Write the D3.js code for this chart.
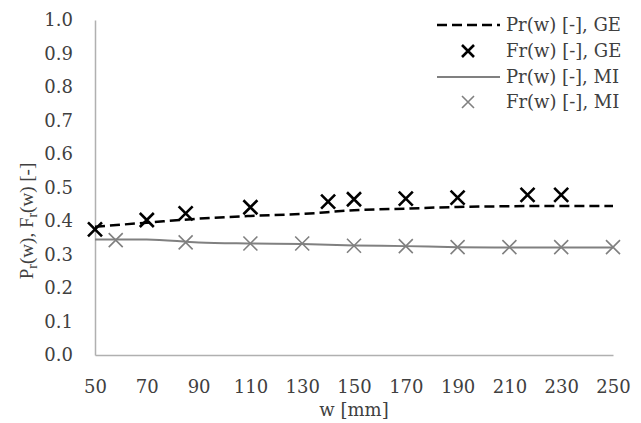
<!DOCTYPE html>
<html>
<head>
<meta charset="utf-8">
<script src="https://cdn.jsdelivr.net/npm/d3@7"></script>
<style>
  body { margin: 0; background: #fff; }
  text { font-family: "DejaVu Serif", serif; fill: #404040; }
</style>
</head>
<body>
<svg id="chart" width="641" height="423"></svg>
<script>
// data
const lineW = [50, 70, 90, 110, 130, 150, 170, 190, 210, 230, 250];
const prGE = [0.383, 0.395, 0.407, 0.415, 0.421, 0.432, 0.437, 0.442, 0.444, 0.445, 0.445];
const prMI = [0.345, 0.345, 0.336, 0.333, 0.331, 0.327, 0.325, 0.322, 0.321, 0.321, 0.321];

const frGEw = [50, 70, 85, 110, 140, 150, 170, 190, 217, 230];
const frGE = [0.375, 0.403, 0.423, 0.441, 0.458, 0.465, 0.467, 0.470, 0.478, 0.478];

const frMIw = [58, 85, 110, 130, 150, 170, 190, 210, 230, 250];
const frMI = [0.343, 0.336, 0.333, 0.333, 0.326, 0.325, 0.322, 0.322, 0.322, 0.322];

const xTicks = [50, 70, 90, 110, 130, 150, 170, 190, 210, 230, 250];
const yTicks = [0, 0.1, 0.2, 0.3, 0.4, 0.5, 0.6, 0.7, 0.8, 0.9, 1.0];

const legendNames = ["Pr(w) [-], GE", "Fr(w) [-], GE", "Pr(w) [-], MI", "Fr(w) [-], MI"];

const margins = {top: 20, left: 95, right: 28, bottom: 68};
const width = 641, height = 423;
const fontSize = '18px';

const svg = d3.select('#chart');

const xScale = d3.scaleLinear().domain([50, 250]).range([margins.left, width - margins.right]);
const yScale = d3.scaleLinear().domain([0, 1]).range([height - margins.bottom, margins.top]);

// axes
const xAxis = svg.append('g')
  .attr('transform', `translate(0, ${yScale(0)})`)
  .call(d3.axisBottom(xScale).tickValues(xTicks).tickSize(0).tickPadding(25).tickFormat(d3.format('d')));
const yAxis = svg.append('g')
  .attr('transform', `translate(${xScale(50)}, 0)`)
  .call(d3.axisLeft(yScale).tickValues(yTicks).tickSize(0).tickPadding(22).tickFormat(d3.format('.1f')));

[xAxis, yAxis].forEach(function(a) {
  a.select('.domain').attr('stroke', '#b0b0b0').attr('stroke-width', 1.5);
  a.selectAll('text').style('font-size', fontSize).attr('fill', '#404040').style('font-family', '"DejaVu Serif", serif');
});

// axis titles
svg.append('text')
  .attr('x', (xScale(50) + xScale(250)) / 2)
  .attr('y', 416)
  .attr('text-anchor', 'middle')
  .style('font-size', fontSize)
  .text('w [mm]');

const yTitle = svg.append('text')
  .attr('transform', `translate(33, 221) rotate(-90)`)
  .attr('text-anchor', 'middle')
  .style('font-family', '"Liberation Serif", serif')
  .style('font-size', '19px');
yTitle.append('tspan').text('P');
yTitle.append('tspan').attr('dy', 4).style('font-size', '14px').text('r');
yTitle.append('tspan').attr('dy', -4).text('(w), F');
yTitle.append('tspan').attr('dy', 4).style('font-size', '14px').text('r');
yTitle.append('tspan').attr('dy', -4).text('(w) [-]');

// lines
const line = d3.line()
  .x((d, i) => xScale(lineW[i]))
  .y(d => yScale(d))
  .curve(d3.curveMonotoneX);

svg.append('path')
  .datum(prMI)
  .attr('d', line)
  .attr('fill', 'none')
  .attr('stroke', '#808080')
  .attr('stroke-width', 2);

svg.append('path')
  .datum(prGE)
  .attr('d', line)
  .attr('fill', 'none')
  .attr('stroke', '#000')
  .attr('stroke-width', 2.5)
  .attr('stroke-dasharray', '10,5');

// x markers
function cross(g, cx, cy, s, color, sw) {
  g.append('path')
    .attr('d', `M${cx - s},${cy - s}L${cx + s},${cy + s}M${cx - s},${cy + s}L${cx + s},${cy - s}`)
    .attr('stroke', color)
    .attr('stroke-width', sw)
    .attr('fill', 'none');
}

const marks = svg.append('g');
frMI.forEach(function(v, i) { cross(marks, xScale(frMIw[i]), yScale(v), 7, '#808080', 1.6); });
frGE.forEach(function(v, i) { cross(marks, xScale(frGEw[i]), yScale(v), 7, '#000', 2.6); });

// legend
const legend = svg.append('g');
const rowY = [25, 51, 77, 102];
legendNames.forEach(function(name, i) {
  const y = rowY[i];
  if (i == 0) {
    legend.append('line').attr('x1', 437).attr('x2', 500).attr('y1', y).attr('y2', y)
      .attr('stroke', '#000').attr('stroke-width', 2.5).attr('stroke-dasharray', '10,5');
  } else if (i == 2) {
    legend.append('line').attr('x1', 437).attr('x2', 500).attr('y1', y).attr('y2', y)
      .attr('stroke', '#808080').attr('stroke-width', 2);
  } else if (i == 1) {
    cross(legend, 468, y, 6, '#000', 2.6);
  } else {
    cross(legend, 468, y, 6, '#808080', 1.6);
  }
  legend.append('text')
    .attr('x', 506)
    .attr('y', y + 6)
    .style('font-size', fontSize)
    .text(name);
});
</script>
</body>
</html>
